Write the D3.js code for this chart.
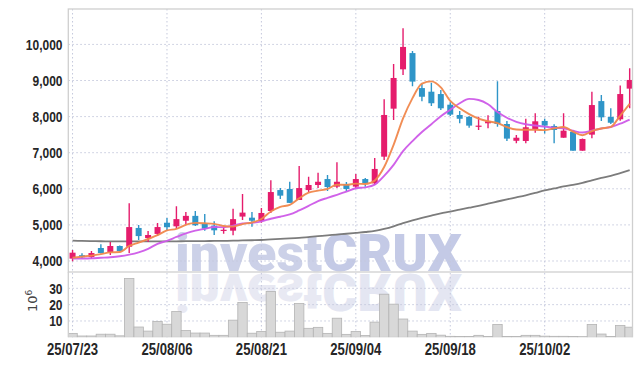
<!DOCTYPE html>
<html><head><meta charset="utf-8">
<script src="https://cdn.jsdelivr.net/npm/d3@7/dist/d3.min.js"></script>
<style>
html,body{margin:0;padding:0;background:#fff;}
svg{display:block;}
.tick-label{font-family:"Liberation Sans",Arial,sans-serif;font-weight:bold;fill:#262626;}
</style></head>
<body>
<svg id="chart" width="642" height="366"></svg>
<script>
// ---------- data ----------
const dates = ["25/07/23","25/07/24","25/07/25","25/07/28","25/07/29","25/07/30","25/07/31",
"25/08/01","25/08/04","25/08/05","25/08/06","25/08/07","25/08/08","25/08/11","25/08/12","25/08/13","25/08/14",
"25/08/18","25/08/19","25/08/20","25/08/21","25/08/22","25/08/25","25/08/26","25/08/27","25/08/28","25/08/29",
"25/09/01","25/09/02","25/09/03","25/09/04","25/09/05","25/09/08","25/09/09","25/09/10","25/09/11","25/09/12",
"25/09/15","25/09/16","25/09/17","25/09/18","25/09/19","25/09/22","25/09/23","25/09/24","25/09/25","25/09/26",
"25/09/29","25/09/30","25/10/01","25/10/02","25/10/10","25/10/13","25/10/14","25/10/15","25/10/16","25/10/17",
"25/10/20","25/10/21","25/10/22"];
const open  = [4065,4160,4110,4360,4250,4415,4395,4915,4635,4750,5060,4960,5115,5250,5035,4980,4840,4840,5230,5200,
               5110,5385,5965,5995,5690,5965,6105,6270,6060,6135,6060,6270,6150,6890,8220,9310,9760,8790,8690,8625,
               8330,8045,7995,7720,7815,8155,7795,7330,7325,7655,7880,7740,7415,7580,7055,7500,8430,7990,7925,8775];
const high  = [4305,4215,4275,4465,4525,4430,5600,5000,4830,5055,5190,5515,5355,5385,5300,5100,4940,5450,5855,5355,
               5470,6235,6020,6195,6630,6335,6445,6380,6735,6190,6410,6300,6855,8480,9460,10450,9815,8905,8940,8735,
               8400,8155,8010,7995,8035,8980,7880,7490,7940,8090,7940,7785,8090,7630,7390,8690,8600,8230,8865,9340];
const low   = [3990,4065,4065,4210,4165,4260,4220,4580,4525,4690,4840,4895,5005,4970,4840,4720,4755,4710,5135,4950,
               5060,5330,5715,5605,5690,5910,6020,5940,6020,5940,6020,6060,6105,6800,7905,9150,8840,8425,8295,8185,
               8015,7815,7690,7630,7675,7720,7325,7260,7260,7555,7535,7260,7415,7055,7055,7400,7880,7795,7885,8230];
const close = [4230,4105,4220,4220,4415,4275,4940,4690,4720,4940,4935,5160,5250,4990,4895,4850,4865,5160,5340,5115,
               5330,5910,5810,5610,6020,6105,6195,6050,6195,5995,6270,6150,6550,8045,9070,9930,8970,8550,8370,8230,
               8055,7940,7750,7750,7870,7795,7390,7415,7705,7870,7750,7630,7610,7055,7380,8320,7980,7830,8625,9015];
// volume in millions of shares
const volume = [2.4,0.8,0.8,1.9,1.9,0.9,36.0,6.3,3.8,9.7,8.0,15.8,4.2,2.6,2.6,1.2,1.2,10.5,21.3,2.5,
                3.6,28.1,3.1,3.8,20.7,5.5,6.1,2.4,11.7,1.8,3.5,1.1,9.3,26.4,20.3,11.2,3.8,1.8,2.4,1.3,
                0.6,0.5,0.5,1.2,0.5,7.9,0.5,0.5,1.2,1.2,0.7,0.6,0.6,0.5,0.4,7.9,2.0,0.5,7.3,6.2];
// moving averages
const maShort = [4090,4120,4150,4190,4238,4248,4416,4510,4609,4715,4846,4890,5001,5055,5046,5029,4970,4953,5023,5067,
                 5163,5372,5501,5555,5736,5891,5948,5996,6114,6109,6142,6133,6232,6602,7217,7948,8511,8912,8977,8809,
                 8434,8229,8068,7944,7872,7821,7710,7643,7634,7634,7625,7673,7712,7582,7484,7599,7669,7713,8028,8354];
const maMid   = [4065,4068,4075,4090,4105,4130,4175,4240,4335,4477,4560,4665,4765,4840,4890,4940,4935,4980,5040,5056,
                 5096,5171,5227,5289,5401,5527,5660,5749,5834,5922,6016,6040,6114,6358,6663,7045,7322,7572,7789,8013,
                 8191,8370,8490,8460,8341,8127,7969,7856,7789,7753,7723,7692,7678,7608,7559,7612,7671,7713,7805,7919];
const maLong  = [4562,4556,4551,4547,4545,4542,4542,4541,4541,4542,4544,4546,4549,4551,4553,4555,4558,4563,4569,4575,
                 4582,4598,4612,4624,4640,4664,4688,4710,4733,4755,4779,4803,4832,4889,4962,5050,5124,5192,5257,5318,
                 5366,5422,5476,5530,5590,5648,5706,5762,5820,5885,5955,6010,6065,6110,6165,6235,6300,6360,6435,6515];
const priceTicks = [4000,5000,6000,7000,8000,9000,10000];
const volTicks = [10,20,30];
const dateTickIdx = [0,10,20,30,40,50];

// ---------- layout ----------
const L = 68.3, R = 632.5, PT = 9, PB = 272, VB = 337.3;
const svg = d3.select("#chart");
const x = d3.scaleLinear().domain([-0.45, 59.3]).range([L, R]);
const y = d3.scaleLinear().domain([3695, 10981]).range([PB, PT]);
const yv = d3.scaleLinear().domain([0, 40]).range([VB, PB]);
const step = x(1) - x(0);
const UP = "#e51c6c", DOWN = "#2f95c8";
const gridColor = "#c4c8dc";

const defs = svg.append("defs");
defs.append("clipPath").attr("id","clipP").append("rect").attr("x",L).attr("y",PT).attr("width",R-L).attr("height",PB-PT);
defs.append("clipPath").attr("id","clipV").append("rect").attr("x",L).attr("y",PB).attr("width",R-L).attr("height",VB-PB);

// watermark
const wm = svg.append("g");
const wmText = (g, fillA, fillB) => {
  const t = g.append("text").attr("x",175).attr("y",271)
    .attr("textLength",287).attr("lengthAdjust","spacingAndGlyphs")
    .style("font-family","Roboto,'Liberation Sans',sans-serif").style("font-weight","900").style("font-size","52px");
  t.append("tspan").attr("fill",fillA).text("invest");
  t.append("tspan").attr("fill",fillB).text("CRUX");
  return t;
};
wmText(wm, "#ccd1e8", "#c4cae6");
const refl = wm.append("g").attr("transform","translate(0,545) scale(1,-1)");
wmText(refl, "#e8e9f3", "#e4e6f2");

// grid
const grid = svg.append("g").attr("stroke",gridColor).attr("stroke-width",1).attr("stroke-dasharray","1.5,2.5");
grid.selectAll("line.hp").data(priceTicks).join("line").attr("class","hp")
  .attr("x1",L).attr("x2",R).attr("y1",d=>y(d)).attr("y2",d=>y(d));
grid.selectAll("line.hv").data(volTicks).join("line").attr("class","hv")
  .attr("x1",L).attr("x2",R).attr("y1",d=>yv(d)).attr("y2",d=>yv(d));
grid.selectAll("line.vx").data(dateTickIdx).join("line").attr("class","vx")
  .attr("x1",d=>x(d)).attr("x2",d=>x(d)).attr("y1",PT).attr("y2",VB);

// volume bars
svg.append("g").attr("clip-path","url(#clipV)").selectAll("rect").data(volume).join("rect")
  .attr("x",(d,i)=>x(i)-step/2).attr("width",step)
  .attr("y",d=>yv(d)).attr("height",d=>VB-yv(d))
  .attr("fill","#d8d8d8").attr("stroke","#b4b4b4").attr("stroke-width",0.8);

// moving averages
const pg = svg.append("g").attr("clip-path","url(#clipP)");
const lineGen = d3.line().x((d,i)=>x(i)).y(d=>y(d)).curve(d3.curveMonotoneX);
pg.append("path").datum(maLong).attr("d",lineGen).attr("fill","none").attr("stroke","#7c7c7c").attr("stroke-width",1.8);

// candles
const cg = pg.append("g");
const idx = d3.range(dates.length);
cg.selectAll("line.wick").data(idx).join("line").attr("class","wick")
  .attr("x1",i=>x(i)).attr("x2",i=>x(i)).attr("y1",i=>y(high[i])).attr("y2",i=>y(low[i]))
  .attr("stroke",i=>close[i]>=open[i]?UP:DOWN).attr("stroke-width",1.4);
cg.selectAll("rect.body").data(idx).join("rect").attr("class","body")
  .attr("x",i=>x(i)-3).attr("width",6)
  .attr("y",i=>y(Math.max(open[i],close[i])))
  .attr("height",i=>Math.max(1.2, Math.abs(y(open[i])-y(close[i]))))
  .attr("fill",i=>close[i]>=open[i]?UP:DOWN);

pg.append("path").datum(maMid).attr("d",lineGen).attr("fill","none").attr("stroke","#cd5ae8").attr("stroke-width",1.9).attr("stroke-opacity",0.95);
pg.append("path").datum(maShort).attr("d",lineGen).attr("fill","none").attr("stroke","#f0874c").attr("stroke-width",1.9).attr("stroke-opacity",0.95);

// frames
const frame = svg.append("g").attr("fill","none").attr("stroke","#cfcfcf").attr("stroke-width",1.3);
frame.append("rect").attr("x",L).attr("y",PT).attr("width",R-L).attr("height",PB-PT);
frame.append("line").attr("x1",L).attr("x2",L).attr("y1",PB).attr("y2",VB);
frame.append("line").attr("x1",R).attr("x2",R).attr("y1",PB).attr("y2",VB);

// axes labels (condensed bold)
const fmt = d3.format(",");
const label = (g, data, px, py, txt, size, anchor, sx) => {
  g.selectAll("text").data(data).join("text").attr("class","tick-label")
    .attr("transform",d=>`translate(${px(d)},${py(d)}) scale(${sx},1)`)
    .attr("text-anchor",anchor).style("font-size",size+"px").text(txt);
};
label(svg.append("g"), priceTicks, ()=>62.5, d=>y(d)+5.4, d=>fmt(d), 15, "end", 0.8);
label(svg.append("g"), volTicks, ()=>62.5, d=>yv(d)+5.4, d=>d, 15, "end", 0.8);
label(svg.append("g"), dateTickIdx, d=>x(d), ()=>355, d=>dates[d], 16, "middle", 0.82);

const vl = svg.append("text").attr("transform","translate(37,312) rotate(-90)")
  .style("font-family","'DejaVu Sans',sans-serif").style("font-size","13px").attr("fill","#444");
vl.append("tspan").text("10");
vl.append("tspan").attr("dy","-5").style("font-size","9px").text("6");
</script>
</body></html>
